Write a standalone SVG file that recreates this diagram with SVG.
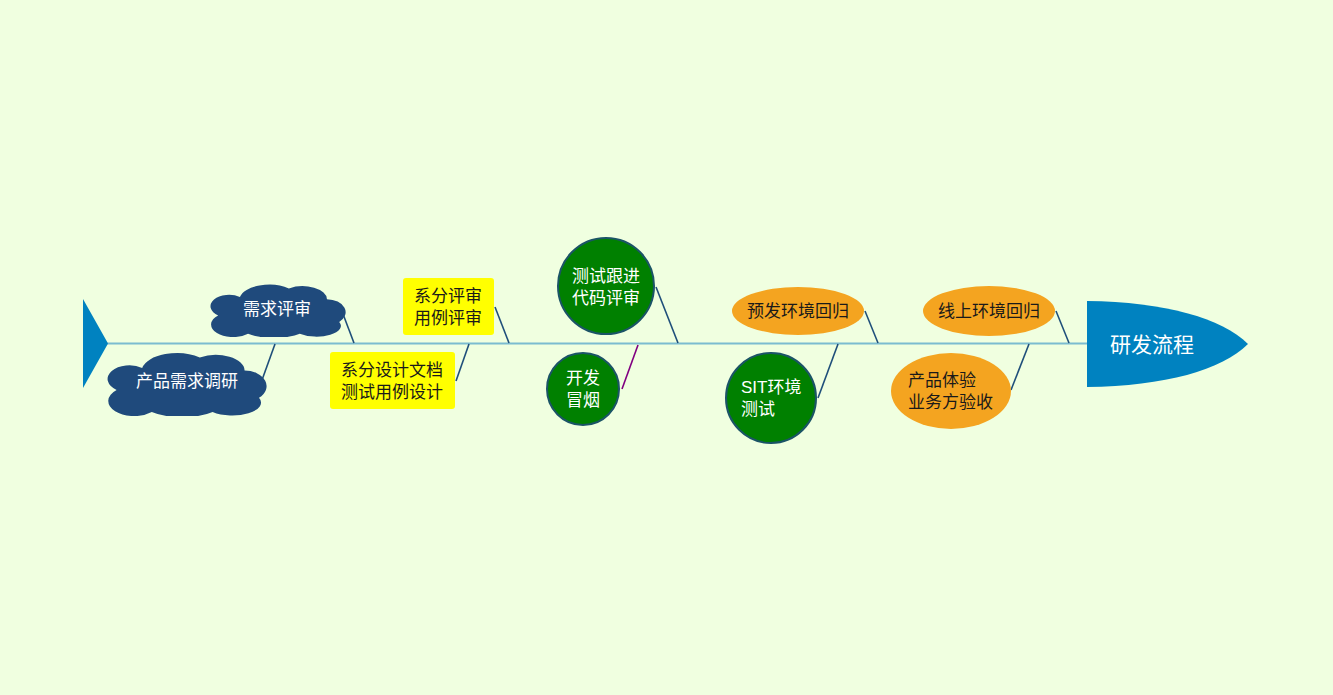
<svg xmlns="http://www.w3.org/2000/svg" width="1333" height="695" viewBox="0 0 1333 695">
<style>
text{font-family:"Liberation Sans","Noto Sans CJK SC",sans-serif;font-size:17px;text-anchor:middle;dominant-baseline:central}
.w{fill:#ffffff}.k{fill:#1a1a1a}
.cloud{fill:#1f4a7c}
.yel{fill:#ffff00}
.grn{fill:#008000;stroke:#1b5466;stroke-width:2}
.org{fill:#f4a420}
.ln{stroke:#1f4f7a;stroke-width:1.6;fill:none}
</style>
<defs>
<symbol id="cl" viewBox="0 0 100 50" preserveAspectRatio="none">
<path d="M6,30 A13,10 0 0 1 22,13 A22,14 0 0 1 58,5 A18,12 0 0 1 86,15 A14,12 0 0 1 95,36 A18,10 0 0 1 66,47 A24,10 0 0 1 28,47 A14,10 0 0 1 6,30 Z"/>
</symbol>
</defs>
<rect width="1333" height="695" fill="#f0ffe0"/>
<g id="spine">
<line x1="105" y1="343.5" x2="1090" y2="343.5" stroke="#7bbcd0" stroke-width="2"/>
<polygon points="83,299 108,343.5 83,388" fill="#0082c0"/>
</g>
<g id="connectors">
<line class="ln" x1="343" y1="314" x2="354" y2="343"/>
<line class="ln" x1="275" y1="344" x2="262" y2="380"/>
<line class="ln" x1="495" y1="307" x2="509" y2="343"/>
<line class="ln" x1="469" y1="344" x2="456" y2="381"/>
<line class="ln" x1="656" y1="287" x2="678" y2="343"/>
<line x1="638" y1="345" x2="622" y2="389" stroke="#800080" stroke-width="1.6"/>
<line class="ln" x1="865" y1="311" x2="878" y2="343"/>
<line class="ln" x1="838" y1="344" x2="818" y2="398"/>
<line class="ln" x1="1056" y1="311" x2="1069" y2="343"/>
<line class="ln" x1="1029" y1="344" x2="1011" y2="390"/>
</g>
<g id="head">
<path d="M1087,301 C1165,302 1222,318 1248,344 C1222,370 1165,386 1087,387 Z" fill="#0082c0"/>
<text x="1152" y="344" class="w" style="font-size:21px">研发流程</text>
</g>
<g id="n1">
<use href="#cl" x="210" y="283" width="136" height="54" class="cloud"/>
<text x="277" y="309" class="w">需求评审</text>
</g>
<g id="n2">
<use href="#cl" x="107" y="351" width="160" height="65" class="cloud"/>
<text x="187" y="381" class="w">产品需求调研</text>
</g>
<g id="n3">
<rect x="403" y="278" width="91" height="57" rx="3" class="yel"/>
<text x="448" y="296" class="k">系分评审</text>
<text x="448" y="318" class="k">用例评审</text>
</g>
<g id="n4">
<rect x="330" y="352" width="125" height="57" rx="3" class="yel"/>
<text x="392" y="370" class="k">系分设计文档</text>
<text x="392" y="392" class="k">测试用例设计</text>
</g>
<g id="n5">
<circle cx="606" cy="286" r="48" class="grn"/>
<text x="606" y="276" class="w">测试跟进</text>
<text x="606" y="298" class="w">代码评审</text>
</g>
<g id="n6">
<circle cx="583" cy="389" r="36" class="grn"/>
<text x="583" y="378" class="w">开发</text>
<text x="583" y="400" class="w">冒烟</text>
</g>
<g id="n7">
<ellipse cx="798" cy="311" rx="66" ry="24" class="org"/>
<text x="798" y="311" class="k">预发环境回归</text>
</g>
<g id="n8">
<circle cx="771" cy="398" r="45" class="grn"/>
<text x="741" y="387" class="w" style="text-anchor:start">SIT环境</text>
<text x="741" y="409" class="w" style="text-anchor:start">测试</text>
</g>
<g id="n9">
<ellipse cx="989" cy="311" rx="66" ry="25" class="org"/>
<text x="989" y="311" class="k">线上环境回归</text>
</g>
<g id="n10">
<ellipse cx="951" cy="391" rx="60" ry="38" class="org"/>
<text x="908" y="380" class="k" style="text-anchor:start">产品体验</text>
<text x="908" y="402" class="k" style="text-anchor:start">业务方验收</text>
</g>
</svg>
